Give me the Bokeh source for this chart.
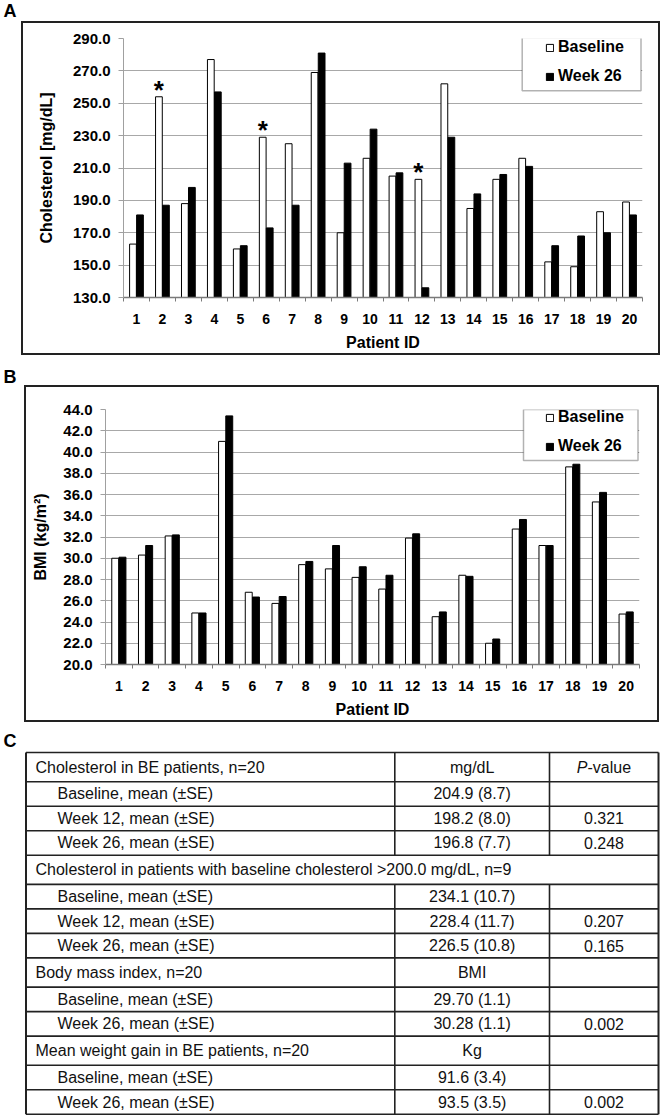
from bokeh.plotting import figure
from bokeh.models import (Range1d, FixedTicker, PrintfTickFormatter, Legend, LegendItem,
                          BoxAnnotation, ColumnDataSource)
from bokeh.transform import dodge
from bokeh.embed import file_html
from bokeh.resources import INLINE
from bokeh.core.properties import value

# ---------------- data ----------------
patient_ids = list(range(1, 21))
chol_baseline = [163, 254, 188, 277, 160, 229, 225, 269, 170, 216,
                 205, 203, 262, 185, 203, 216, 152, 149, 183, 189]
chol_week26 = [181, 187, 198, 257, 162, 173, 187, 281, 213, 234,
               207, 136, 229, 194, 206, 211, 162, 168, 170, 181]
chol_significant = [2, 6, 12]
chol_ticks = [130, 150, 170, 190, 210, 230, 250, 270, 290]

bmi_baseline = [30.0, 30.3, 32.1, 24.85, 41.0, 26.8, 25.75, 29.4, 29.0, 28.2,
                27.1, 31.9, 24.5, 28.4, 22.0, 32.75, 31.2, 38.6, 35.3, 24.75]
bmi_week26 = [30.1, 31.2, 32.2, 24.85, 43.4, 26.35, 26.4, 29.7, 31.2, 29.2,
              28.4, 32.3, 24.95, 28.3, 22.4, 33.65, 31.2, 38.85, 36.2, 24.95]
bmi_ticks = [20, 22, 24, 26, 28, 30, 32, 34, 36, 38, 40, 42, 44]

series_labels = ["Baseline", "Week 26"]
panel_letters = ["A", "B", "C"]

table_labels = [
    "Cholesterol in BE patients, n=20",
    "Baseline, mean (±SE)",
    "Week 12, mean (±SE)",
    "Week 26, mean (±SE)",
    "Cholesterol in patients with baseline cholesterol >200.0 mg/dL, n=9",
    "Baseline, mean (±SE)",
    "Week 12, mean (±SE)",
    "Week 26, mean (±SE)",
    "Body mass index, n=20",
    "Baseline, mean (±SE)",
    "Week 26, mean (±SE)",
    "Mean weight gain in BE patients, n=20",
    "Baseline, mean (±SE)",
    "Week 26, mean (±SE)",
]
table_values = ["mg/dL", "204.9 (8.7)", "198.2 (8.0)", "196.8 (7.7)",
                "", "234.1 (10.7)", "228.4 (11.7)", "226.5 (10.8)",
                "BMI", "29.70 (1.1)", "30.28 (1.1)",
                "Kg", "91.6 (3.4)", "93.5 (3.5)"]
table_pvalues = ["P-value", "", "0.321", "0.248",
                 "", "", "0.207", "0.165",
                 "", "", "0.002",
                 "", "", "0.002"]
table_kind = ["section", "item", "item", "item",
              "section", "item", "item", "item",
              "section", "item", "item",
              "section", "item", "item"]

FONT = "Liberation Sans"
PAGE_W = 660
EDGE = "#222222"


def plain_figure(w, h, **kw):
    f = figure(width=w, height=h, output_backend="svg", toolbar_location=None,
               x_range=Range1d(0, w), y_range=Range1d(h, 0),
               x_axis_type=None, y_axis_type=None,
               min_border_left=0, min_border_right=0, min_border_top=0,
               min_border_bottom=0, **kw)
    f.outline_line_color = None
    f.xgrid.visible = False
    f.ygrid.visible = False
    f.background_fill_alpha = 0
    f.border_fill_alpha = 0
    return f


def letter_figure(h, letter, y):
    f = plain_figure(PAGE_W, h)
    f.text(x=[3], y=[y], text=[letter], text_align="left", text_baseline="middle",
           text_font=value(FONT), text_font_style="bold",
           text_font_size=value("18px"), text_color="black")
    return f


def make_chart(ox, oy, w, h, fl, fr, ft, fb, ymin, ymax, yticks, ylabel,
               base, week, legbox, leg_left, leg_bottom, stars=None,
               ylab_standoff=14):
    # ox, oy: page position of canvas; fl.. fb: page position of the frame
    L = fl - ox
    R = (ox + w) - fr
    T = ft - oy
    B = (oy + h) - fb

    def sxr(x):
        return x - fl

    def syr(y):
        return fb - y

    p = figure(width=w, height=h, output_backend="svg", toolbar_location=None,
               x_range=Range1d(0.5, 20.5), y_range=Range1d(ymin, ymax),
               min_border_left=L, min_border_right=R, min_border_top=T,
               min_border_bottom=B)
    p.outline_line_color = None
    p.background_fill_color = "white"
    p.border_fill_color = "white"

    src = ColumnDataSource(dict(pid=patient_ids, base=base, week=week))
    r1 = p.vbar(x=dodge("pid", -0.135), top="base", bottom=ymin, width=0.26,
                fill_color="white", line_color="black", line_width=1, source=src)
    r2 = p.vbar(x=dodge("pid", 0.135), top="week", bottom=ymin, width=0.26,
                fill_color="black", line_color="black", line_width=1, source=src)

    if stars:
        ssrc = ColumnDataSource(dict(pid=stars, top=[base[i - 1] for i in stars]))
        p.text(x=dodge("pid", -0.135), y="top", text=value("*"), source=ssrc,
               text_font=value(FONT), text_font_style="bold",
               text_font_size=value("26px"), text_align="center",
               text_baseline="alphabetic", text_color="black", y_offset=-7)

    # x axis
    p.xaxis.ticker = FixedTicker(ticks=patient_ids,
                                 minor_ticks=[i - 0.5 for i in patient_ids] + [patient_ids[-1] + 0.5])
    p.xaxis.major_tick_line_color = None
    p.xaxis.major_tick_out = 0
    p.xaxis.major_tick_in = 0
    p.xaxis.minor_tick_out = 4
    p.xaxis.minor_tick_in = 0
    p.xaxis.minor_tick_line_color = "#7a7a7a"
    p.xaxis.axis_line_color = "#7a7a7a"
    p.xaxis.axis_line_width = 1.5
    p.xaxis.major_label_standoff = 12
    p.xaxis.major_label_text_font = FONT
    p.xaxis.major_label_text_font_style = "bold"
    p.xaxis.major_label_text_font_size = "14px"
    p.xaxis.major_label_text_color = "black"
    p.xaxis.axis_label = "Patient ID"
    p.xaxis.axis_label_text_font = FONT
    p.xaxis.axis_label_text_font_style = "bold"
    p.xaxis.axis_label_text_font_size = "16px"
    p.xaxis.axis_label_text_color = "black"
    p.xaxis.axis_label_standoff = 7

    # y axis
    p.yaxis.ticker = FixedTicker(ticks=yticks, minor_ticks=[])
    p.yaxis.formatter = PrintfTickFormatter(format="%.1f")
    p.yaxis.axis_line_color = "#a0a0a0"
    p.yaxis.major_tick_line_color = "#a0a0a0"
    p.yaxis.major_tick_out = 5
    p.yaxis.major_tick_in = 0
    p.yaxis.minor_tick_line_color = None
    p.yaxis.major_label_standoff = 8
    p.yaxis.major_label_text_font = FONT
    p.yaxis.major_label_text_font_style = "bold"
    p.yaxis.major_label_text_font_size = "15px"
    p.yaxis.major_label_text_color = "black"
    p.yaxis.axis_label = ylabel
    p.yaxis.axis_label_text_font = FONT
    p.yaxis.axis_label_text_font_style = "bold"
    p.yaxis.axis_label_text_font_size = "16px"
    p.yaxis.axis_label_text_color = "black"
    p.yaxis.axis_label_standoff = ylab_standoff

    p.xgrid.visible = False
    p.ygrid.ticker = FixedTicker(ticks=yticks, minor_ticks=[])
    p.ygrid.grid_line_color = "#a8a8a8"
    p.ygrid.grid_line_width = 1

    # legend frame (kept inside the plotting area)
    lx0, ly0, lx1, ly1 = legbox
    p.add_layout(BoxAnnotation(left=sxr(lx0), right=sxr(lx1), top=syr(ly0), bottom=syr(ly1),
                               left_units="screen", right_units="screen",
                               top_units="screen", bottom_units="screen",
                               fill_color="white", fill_alpha=1, line_color="black",
                               line_width=1.5, level="annotation"))
    legend = Legend(items=[LegendItem(label=series_labels[0], renderers=[r1]),
                           LegendItem(label=series_labels[1], renderers=[r2])],
                    location=(sxr(leg_left), syr(leg_bottom)))
    legend.border_line_color = None
    legend.background_fill_alpha = 0
    legend.padding = 0
    legend.margin = 0
    legend.spacing = 9
    legend.glyph_width = 9
    legend.glyph_height = 9
    legend.label_standoff = 4
    legend.label_height = 20
    legend.label_text_font = FONT
    legend.label_text_font_style = "bold"
    legend.label_text_font_size = "16px"
    legend.label_text_color = "black"
    p.add_layout(legend)
    return p


# ---- panel A (canvas = inside of the outlined box) ----
letA = letter_figure(21, panel_letters[0], 10)
pA = make_chart(23, 23, 635, 330, 123, 642, 38, 299, 130, 290, chol_ticks,
                "Cholesterol [mg/dL]", chol_baseline, chol_week26,
                (521.7, 39, 640.5, 92.3), 545, 88, stars=chol_significant,
                ylab_standoff=15)
pA.styles = {"outline": "2px solid " + EDGE, "margin": "2px 0px 2px 23px"}

# ---- panel B ----
letB = letter_figure(30, panel_letters[1], 21)
pB = make_chart(26, 387, 631, 333, 105, 639, 409, 665, 20, 44, bmi_ticks,
                "BMI (kg/m²)", bmi_baseline, bmi_week26,
                (523, 410, 637.5, 461), 545, 457, ylab_standoff=11)
pB.styles = {"outline": "2px solid " + EDGE, "margin": "2px 0px 2px 26px"}

# ---------------- table (panel C) ----------------
TOP_C = 722
HC = 393


def cy(y):
    return y - TOP_C


pC = plain_figure(PAGE_W, HC)
pC.text(x=[3], y=[cy(740)], text=[panel_letters[2]], text_align="left",
        text_font=value(FONT), text_font_style="bold", text_font_size=value("18px"),
        text_baseline="middle", text_color="black")

T_LEFT, T_RIGHT, T_C1, T_C2 = 25.5, 658, 394.3, 549
SEC_H, ITEM_H = 29.2, 24.5
bounds = [752.0]
for k in table_kind:
    bounds.append(bounds[-1] + (SEC_H if k == "section" else ITEM_H))

row_top = [cy(b) for b in bounds[:-1]]
row_bot = [cy(b) for b in bounds[1:]]
row_mid = [(a + b) / 2 for a, b in zip(row_top, row_bot)]

pC.segment(x0=[T_LEFT] * len(bounds), x1=[T_RIGHT] * len(bounds),
           y0=[cy(b) for b in bounds], y1=[cy(b) for b in bounds],
           line_color=EDGE, line_width=1.6)
vx, vy0, vy1 = [], [], []
for i, k in enumerate(table_kind):
    if k == "section" and table_values[i] == "":
        continue
    for cx in (T_C1, T_C2):
        vx.append(cx)
        vy0.append(row_top[i])
        vy1.append(row_bot[i])
pC.segment(x0=vx, x1=vx, y0=vy0, y1=vy1, line_color=EDGE, line_width=1.6)
pC.segment(x0=[T_LEFT, T_RIGHT], x1=[T_LEFT, T_RIGHT],
           y0=[cy(bounds[0])] * 2, y1=[cy(bounds[-1])] * 2,
           line_color=EDGE, line_width=2)

TXT = dict(text_font=value(FONT), text_font_size=value("16px"),
           text_baseline="middle", text_color="#111111")
lab_x = [35 if k == "section" else 57 for k in table_kind]
pC.text(x=lab_x, y=row_mid, text=table_labels, text_align="left", **TXT)
pC.text(x=[(T_C1 + T_C2) / 2] * len(table_values), y=row_mid, text=table_values,
        text_align="center", **TXT)

pv_x, pv_y, pv_t = [], [], []
hdr = None
for i, t in enumerate(table_pvalues):
    if t.startswith("P-"):
        hdr = (i, t)
    elif t:
        pv_x.append((T_C2 + T_RIGHT) / 2)
        pv_y.append(row_mid[i])
        pv_t.append(t)
pC.text(x=pv_x, y=pv_y, text=pv_t, text_align="center", **TXT)
if hdr is not None:
    i, t = hdr
    pC.text(x=[587], y=[row_mid[i]], text=[t[0]], text_align="right",
            text_font_style="italic", **TXT)
    pC.text(x=[587], y=[row_mid[i]], text=[t[1:]], text_align="left", **TXT)

open("out.html", "w").write(file_html([letA, pA, letB, pB, pC], INLINE))
